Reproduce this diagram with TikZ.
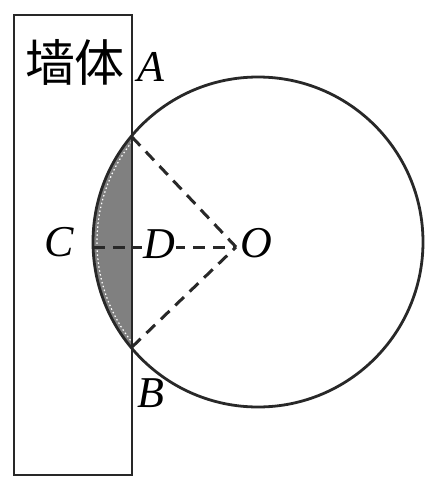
\documentclass[tikz,border=0pt]{standalone}
\usepackage{fontspec}
\setmainfont{Liberation Serif}
\newfontfamily\cjkfont{Noto Sans CJK SC}
\usepackage{tikz}

\tikzset{
	edge/.style={color={rgb, 255:red, 40; green, 40; blue, 40}, line width=2.8pt},
	guide/.style={color={rgb, 255:red, 40; green, 40; blue, 40}, line width=3pt, dash pattern={on 12pt off 8pt}},
	lbl/.style={inner sep=0pt, font=\fontsize{44}{48}\selectfont\itshape},
}

\begin{document}
\begin{tikzpicture}[x=1pt,y=1pt,yscale=-1,xscale=1]
	\useasboundingbox (0,0) rectangle (443,488); %set diagram size to the reference
	
	\coordinate (o) at (236,247);
	\coordinate (c) at (93,247);
	\coordinate (p) at (132,137);
	\coordinate (q) at (132,347);
	
	%Shape: Segment behind the wall
	\begin{scope}
		\clip (0,0) rectangle (132,488);
		\fill [color={rgb, 255:red, 128; green, 128; blue, 128}] (258,242) circle (165);
		\draw [white, line width=1.2pt, dash pattern={on 1.5pt off 2.5pt}] (258,242) circle (161);
	\end{scope}
	%Shape: Rectangle
	\draw [edge] (14,15) rectangle (132,475);
	%Shape: Circle
	\draw [edge] (258,242) circle (165);
	%Straight Lines
	\draw [guide] (p) -- (o);
	\draw [guide] (q) -- (o);
	\draw [guide] (c) -- (o);
	
	% Text Node
	\node (wall) at (75,62) [inner sep=0pt, font=\fontsize{50}{54}\selectfont\cjkfont] {墙体};
	% Text Node
	\node (la) at (151,67) [lbl] {A};
	% Text Node
	\node (lb) at (151,393) [lbl] {B};
	% Text Node
	\node (lc) at (59,242) [lbl] {C};
	% Text Node
	\node (ld) at (159,244) [lbl, fill=white, inner sep=1pt] {D};
	% Text Node
	\node (lo) at (256,243) [lbl] {O};
	
\end{tikzpicture}
\end{document}
